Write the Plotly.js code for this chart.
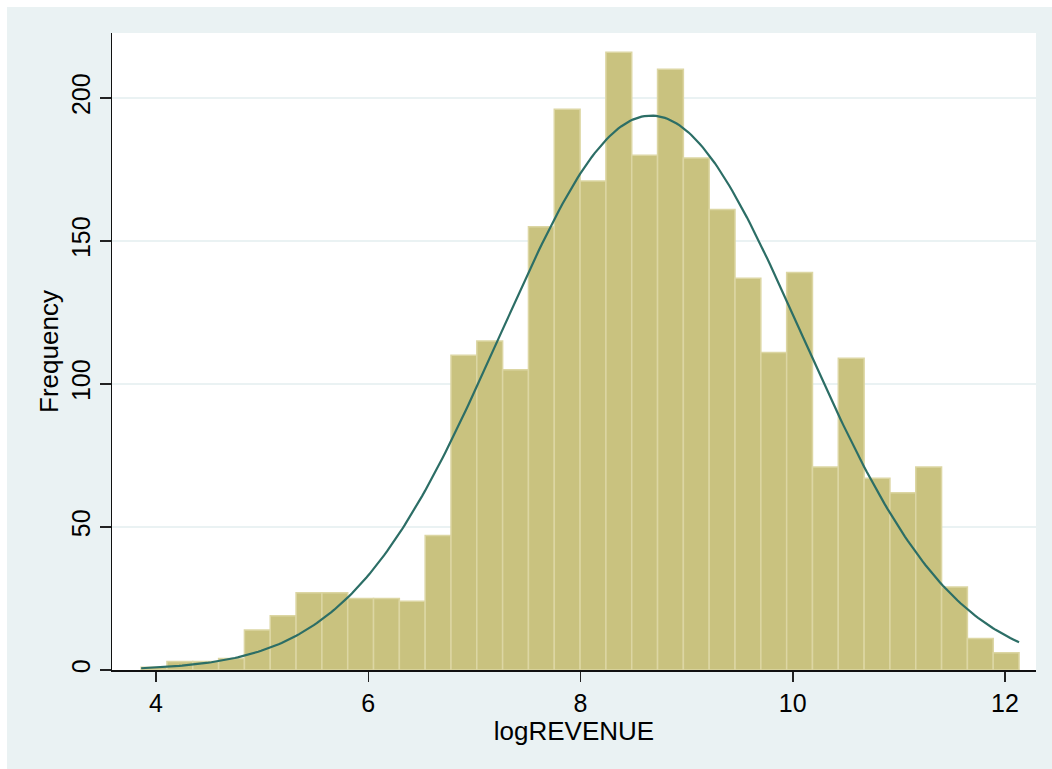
<!DOCTYPE html>
<html>
<head>
<meta charset="utf-8">
<script src="https://cdn.plot.ly/plotly-3.0.1.min.js"></script>
<style>
html,body{margin:0;padding:0;background:#ffffff;width:1052px;height:769px;overflow:hidden;}
#chart{position:absolute;left:7px;top:7px;width:1045px;height:762px;}
</style>
</head>
<body>
<div id="chart"></div>
<script>
// Histogram of logREVENUE (34 bins)
const binStart = 3.860;
const binWidth = 0.2433;
const frequencies = [1, 3, 3, 4, 14, 19, 27, 27, 25, 25, 24, 47, 110, 115, 105, 155, 196, 171, 216, 180, 210, 179, 161, 137, 111, 139, 71, 109, 67, 62, 71, 29, 11, 6];
// Normal density overlay parameters
const fitMean = 8.665;
const fitSD = 1.417;
const xTickVals = [4, 6, 8, 10, 12];
const yTickVals = [0, 50, 100, 150, 200];

const centers = frequencies.map((_, i) => binStart + binWidth * (i + 0.5));
const nObs = frequencies.reduce((a, b) => a + b, 0);
const xMin = binStart, xMax = binStart + binWidth * frequencies.length;
const curveX = [], curveY = [];
const nPts = 300;
for (let i = 0; i <= nPts; i++) {
  const x = xMin + (xMax - xMin) * i / nPts;
  const z = (x - fitMean) / fitSD;
  curveX.push(x);
  curveY.push(nObs * binWidth * Math.exp(-0.5 * z * z) / (fitSD * Math.sqrt(2 * Math.PI)));
}

const font = {family: '"Liberation Sans", Arial, Helvetica, sans-serif', color: '#000'};

const traces = [
  {
    type: 'bar',
    x: centers,
    y: frequencies,
    width: frequencies.map(() => binWidth),
    marker: {color: '#c9c27f', line: {color: '#dcd6a3', width: 1.5}},
    hoverinfo: 'x+y',
    showlegend: false
  },
  {
    type: 'scatter',
    mode: 'lines',
    x: curveX,
    y: curveY,
    line: {color: '#2c6e66', width: 2.2},
    hoverinfo: 'skip',
    showlegend: false
  }
];

const layout = {
  width: 1045,
  height: 762,
  margin: {l: 105, r: 16, t: 26, b: 99},
  paper_bgcolor: '#eaf2f3',
  plot_bgcolor: '#ffffff',
  bargap: 0,
  showlegend: false,
  font: font,
  xaxis: {
    range: [3.5854, 12.292],
    tickvals: xTickVals,
    ticktext: xTickVals.map(String),
    ticks: 'outside', ticklen: 10, tickwidth: 1.5, tickcolor: '#222',
    showline: true, linecolor: '#111', linewidth: 1.5,
    showgrid: false, zeroline: false,
    tickfont: {family: font.family, size: 25, color: '#000'},
    title: {text: 'logREVENUE', font: {family: font.family, size: 26, color: '#000'}, standoff: 1},
    automargin: false
  },
  yaxis: {
    range: [0, 222.7],
    tickvals: yTickVals,
    ticktext: yTickVals.map(String),
    tickangle: -90,
    ticks: 'outside', ticklen: 11, tickwidth: 1.5, tickcolor: '#222',
    showline: true, linecolor: '#111', linewidth: 1.5,
    showgrid: true, gridcolor: '#eaf2f3', gridwidth: 1.5,
    zeroline: false,
    tickfont: {family: font.family, size: 25, color: '#000'},
    title: {text: 'Frequency', font: {family: font.family, size: 26, color: '#000'}, standoff: 0},
    automargin: false
  }
};

Plotly.newPlot('chart', traces, layout, {displayModeBar: false, staticPlot: true});
</script>
</body>
</html>
